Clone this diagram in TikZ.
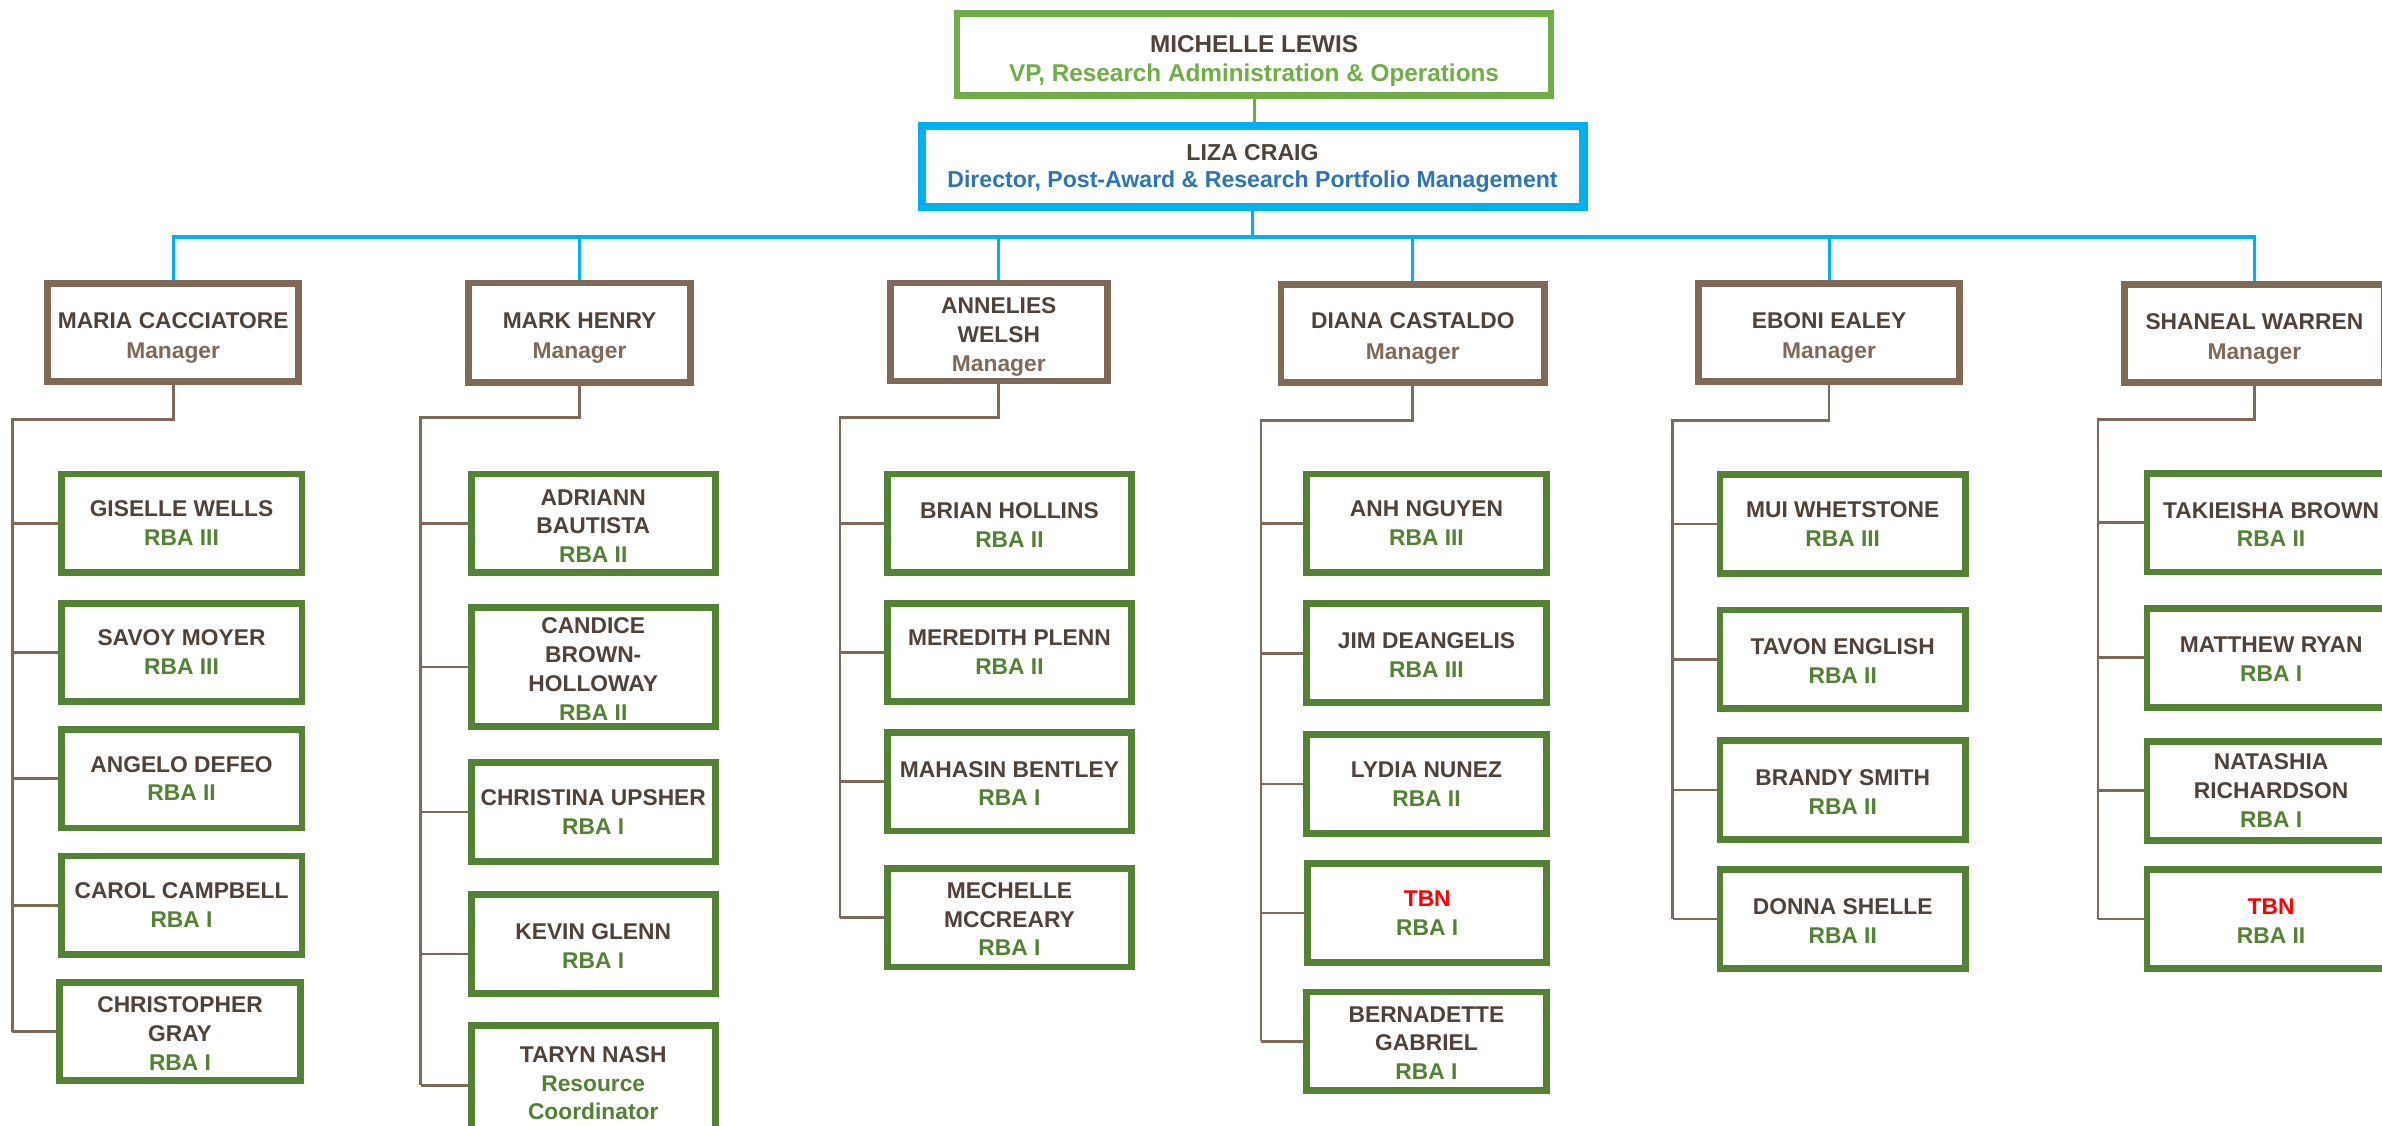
\documentclass[tikz,border=0pt]{standalone}
\usepackage{fontspec}
\setmainfont{Liberation Sans}
\definecolor{txtdark}{RGB}{80,66,56}
\definecolor{vpgreen}{RGB}{112,173,71}
\definecolor{rbagreen}{RGB}{84,130,53}
\definecolor{cyanline}{RGB}{0,176,240}
\definecolor{dirblue}{RGB}{46,117,182}
\definecolor{mgrbrown}{RGB}{128,106,87}
\definecolor{tbnred}{RGB}{255,0,0}
\newcommand\rolegr[1]{\textcolor{rbagreen}{#1}}
\newcommand\rolebr[1]{\textcolor{mgrbrown}{#1}}
\newcommand\mystrut[1]{\rule{0pt}{#1}}
\pgfdeclarelayer{background}
\pgfsetlayers{background,main}
\begin{document}
\begin{tikzpicture}[x=1pt,y=-1pt,
 box/.style={draw, rectangle, fill=white, align=center, inner sep=1pt,
   font=\bfseries\fontsize{15}{19}\selectfont, text=txtdark},
 staff/.style={box, draw=rbagreen, line width=4.5pt, minimum height=65},
 mgr/.style={box, draw=mgrbrown, line width=4.5pt, minimum height=64.5,
   font=\bfseries\fontsize{15}{20}\selectfont},
 cA/.style={staff, minimum width=158.5},
 cB/.style={staff, minimum width=160.5},
 cC/.style={staff, minimum width=160.5},
 cD/.style={staff, minimum width=157.5},
 cE/.style={staff, minimum width=161.5},
 cF/.style={staff, minimum width=163.5},
 brline/.style={draw=mgrbrown, line width=1.8pt},
 cyline/.style={draw=cyanline, line width=2pt},
 grline/.style={draw=vpgreen, line width=2pt},
]
\useasboundingbox (0,0) rectangle (1568,741);
\clip (0,0) rectangle (1568,741);

% top
\node[box, draw=vpgreen, line width=4.5pt, minimum width=391, minimum height=54,
  font=\bfseries\fontsize{16}{19}\selectfont] (vp) at (825.5,36)
  {\mystrut{19.5pt}MICHELLE LEWIS\\\textcolor{vpgreen}{VP, Research Administration \& Operations}};
\node[box, draw=cyanline, line width=5.5pt, minimum width=435.5, minimum height=53.5,
  font=\bfseries\fontsize{15.2}{18}\selectfont] (liza) at (824.5,109.5)
  {\mystrut{13pt}LIZA CRAIG\\\textcolor{dirblue}{Director, Post-Award \& Research Portfolio Management}};

% managers
\node[mgr, minimum width=165.5] (m1) at (114,219) {\mystrut{17.5pt}MARIA CACCIATORE\\\rolebr{Manager}};
\node[mgr, minimum width=146.5, minimum height=65.5] (m2) at (381.5,219) {\mystrut{17.5pt}MARK HENRY\\\rolebr{Manager}};
\node[mgr, minimum width=142.5, font=\bfseries\fontsize{15}{19}\selectfont] (m3) at (657.5,218.5) {\mystrut{17.5pt}ANNELIES\\WELSH\\\rolebr{Manager}};
\node[mgr, minimum width=173.5] (m4) at (930,219.4) {\mystrut{17.5pt}DIANA CASTALDO\\\rolebr{Manager}};
\node[mgr, minimum width=171.5] (m5) at (1204,219) {\mystrut{17.5pt}EBONI EALEY\\\rolebr{Manager}};
\node[mgr, minimum width=171.5] (m6) at (1484,219.5) {\mystrut{17.5pt}SHANEAL WARREN\\\rolebr{Manager}};

% column 1
\node[cA] (a1) at (119.5,344.5) {GISELLE WELLS\\\rolegr{RBA III}};
\node[cA] (a2) at (119.5,429.5) {SAVOY MOYER\\\rolegr{RBA III}};
\node[cA] (a3) at (119.5,512.5) {ANGELO DEFEO\\\rolegr{RBA II}};
\node[cA] (a4) at (119.5,596) {CAROL CAMPBELL\\\rolegr{RBA I}};
\node[cA] (a5) at (118.5,679) {\mystrut{13pt}CHRISTOPHER\\GRAY\\\rolegr{RBA I}};

% column 2
\node[cB] (b1) at (390.5,344.5) {\mystrut{14pt}ADRIANN\\BAUTISTA\\\rolegr{RBA II}};
\node[cB, minimum height=78.5] (b2) at (390.5,439) {\mystrut{13pt}CANDICE\\BROWN-\\HOLLOWAY\\\rolegr{RBA II}};
\node[cB] (b3) at (390.5,534.5) {CHRISTINA UPSHER\\\rolegr{RBA I}};
\node[cB] (b4) at (390.5,621.5) {\mystrut{12.5pt}KEVIN GLENN\\\rolegr{RBA I}};
\node[cB, minimum height=73.5] (b5) at (390.5,712) {\mystrut{12.5pt}TARYN NASH\\\rolegr{Resource}\\\rolegr{Coordinator}};

% column 3
\node[cC] (c1) at (664.5,344.5) {\mystrut{13pt}BRIAN HOLLINS\\\rolegr{RBA II}};
\node[cC] (c2) at (664.5,429.5) {MEREDITH PLENN\\\rolegr{RBA II}};
\node[cC] (c3) at (664.5,514.5) {\mystrut{13pt}MAHASIN BENTLEY\\\rolegr{RBA I}};
\node[cC] (c4) at (664.5,604) {\mystrut{12.5pt}MECHELLE\\MCCREARY\\\rolegr{RBA I}};

% column 4
\node[cD] (d1) at (939,344.5) {ANH NGUYEN\\\rolegr{RBA III}};
\node[cD] (d2) at (939,430) {\mystrut{13pt}JIM DEANGELIS\\\rolegr{RBA III}};
\node[cD] (d3) at (939,516) {LYDIA NUNEZ\\\rolegr{RBA II}};
\node[cD] (d4) at (939.5,601) {\textcolor{tbnred}{TBN}\\\rolegr{RBA I}};
\node[cD] (d5) at (939,685.5) {\mystrut{12.5pt}BERNADETTE\\GABRIEL\\\rolegr{RBA I}};

% column 5
\node[cE] (e1) at (1213,345) {MUI WHETSTONE\\\rolegr{RBA III}};
\node[cE] (e2) at (1213,434) {\mystrut{13pt}TAVON ENGLISH\\\rolegr{RBA II}};
\node[cE] (e3) at (1213,520) {\mystrut{13pt}BRANDY SMITH\\\rolegr{RBA II}};
\node[cE] (e4) at (1213,605) {\mystrut{13pt}DONNA SHELLE\\\rolegr{RBA II}};

% column 6
\node[cF] (f1) at (1495,344) {\mystrut{13pt}TAKIEISHA BROWN\\\rolegr{RBA II}};
\node[cF] (f2) at (1495,433) {\mystrut{12.5pt}MATTHEW RYAN\\\rolegr{RBA I}};
\node[cF] (f3) at (1495,520.5) {NATASHIA\\RICHARDSON\\\rolegr{RBA I}};
\node[cF] (f4) at (1495,605) {\mystrut{13pt}\textcolor{tbnred}{TBN}\\\rolegr{RBA II}};

% trunk coordinates
\coordinate (bus) at (824.5,156);
\coordinate (tA) at (8,276);
\coordinate (tB) at (277,275);
\coordinate (tC) at (553,275);
\coordinate (tD) at (830,277);
\coordinate (tE) at (1101,277);
\coordinate (tF) at (1381,276);
\coordinate (sK) at ([yshift=-6.5pt]b4.west);
\coordinate (sT) at ([yshift=-2.5pt]b5.west);

\begin{pgfonlayer}{background}
\draw[grline] (vp.south) -- (vp.south |- liza.north);
\draw[cyline] (liza.south) -- (bus);
\draw[cyline] (m1.north) |- (bus) -| (m6.north);
\foreach \m in {m2,m3,m4,m5} \draw[cyline] (\m.north) -- (\m.north |- bus);

\draw[brline] (m1.south) |- (tA) -- (tA |- a5.west);
\foreach \n in {a1,a2,a3,a4,a5} \draw[brline] (tA |- \n.west) -- (\n.west);
\draw[brline] (m2.south) |- (tB) -- (tB |- sT);
\foreach \n in {b1,b2,b3} \draw[brline] (tB |- \n.west) -- (\n.west);
\draw[brline] (tB |- sK) -- (sK);
\draw[brline] (tB |- sT) -- (sT);
\draw[brline] (m3.south) |- (tC) -- (tC |- c4.west);
\foreach \n in {c1,c2,c3,c4} \draw[brline] (tC |- \n.west) -- (\n.west);
\draw[brline] (m4.south) |- (tD) -- (tD |- d5.west);
\foreach \n in {d1,d2,d3,d4,d5} \draw[brline] (tD |- \n.west) -- (\n.west);
\draw[brline] (m5.south) |- (tE) -- (tE |- e4.west);
\foreach \n in {e1,e2,e3,e4} \draw[brline] (tE |- \n.west) -- (\n.west);
\draw[brline] (m6.south) |- (tF) -- (tF |- f4.west);
\foreach \n in {f1,f2,f3,f4} \draw[brline] (tF |- \n.west) -- (\n.west);
\end{pgfonlayer}
\end{tikzpicture}
\end{document}
